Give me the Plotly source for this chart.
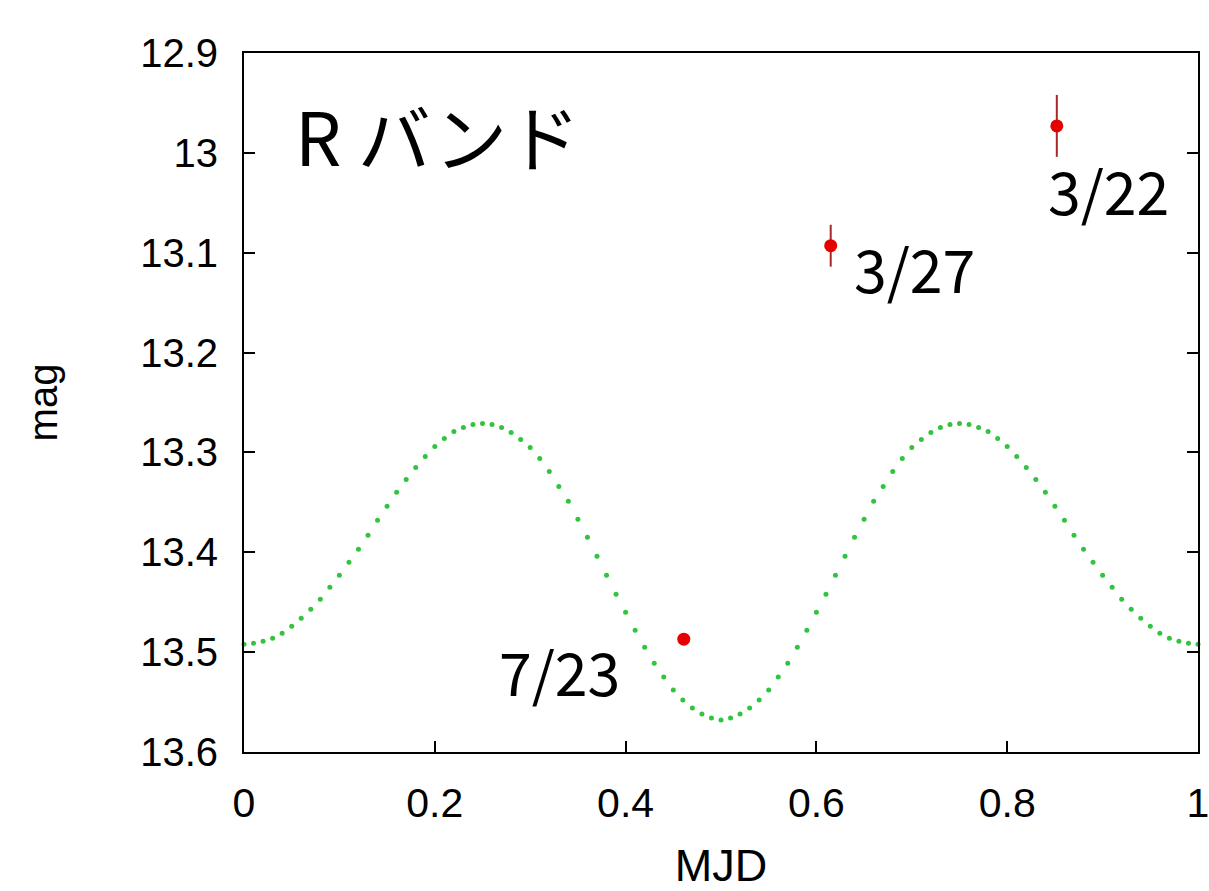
import plotly.graph_objects as go

# model light curve (green dotted), phases 0.00 .. 1.00
model_phase = [i / 100 for i in range(101)]
model_mag = [
    13.492, 13.491, 13.489, 13.486, 13.481, 13.474, 13.466, 13.457, 13.447, 13.435,
    13.423, 13.410, 13.397, 13.383, 13.368, 13.354, 13.340, 13.327, 13.315, 13.304,
    13.294, 13.286, 13.279, 13.275, 13.272, 13.271, 13.272, 13.275, 13.280, 13.287,
    13.295, 13.306, 13.319, 13.334, 13.349, 13.367, 13.385, 13.404, 13.423, 13.442,
    13.460, 13.478, 13.495, 13.511, 13.525, 13.538, 13.548, 13.556, 13.562, 13.566,
    13.568,
    13.566, 13.562, 13.556, 13.548, 13.538, 13.525, 13.511, 13.495, 13.478, 13.460,
    13.442, 13.423, 13.404, 13.385, 13.367, 13.349, 13.334, 13.319, 13.306, 13.295,
    13.287, 13.280, 13.275, 13.272, 13.271, 13.272, 13.275, 13.279, 13.286, 13.294,
    13.304, 13.315, 13.327, 13.340, 13.354, 13.368, 13.383, 13.397, 13.410, 13.423,
    13.435, 13.447, 13.457, 13.466, 13.474, 13.481, 13.486, 13.489, 13.491, 13.492,
]

# observations
obs_dates = ["7/23", "3/27", "3/22"]
obs_phase = [0.461, 0.615, 0.852]
obs_mag = [13.487, 13.093, 12.973]
obs_err = [0.0, 0.021, 0.031]

# label positions (data coords)
label_x = [0.331, 0.703, 0.906]
label_y = [13.518, 13.115, 13.037]

x_ticks = [0, 0.2, 0.4, 0.6, 0.8, 1]
x_ticktext = ["0", "0.2", "0.4", "0.6", "0.8", "1"]
y_ticks = [12.9, 13.0, 13.1, 13.2, 13.3, 13.4, 13.5, 13.6]
y_ticktext = ["12.9", "13", "13.1", "13.2", "13.3", "13.4", "13.5", "13.6"]

fig = go.Figure()

fig.add_trace(go.Scatter(
    x=model_phase, y=model_mag, mode="markers",
    marker=dict(color="#33c43f", size=5, symbol="circle"),
    showlegend=False, hoverinfo="skip", cliponaxis=False,
))

fig.add_trace(go.Scatter(
    x=obs_phase, y=obs_mag, mode="markers",
    marker=dict(color="#e60000", size=13),
    error_y=dict(type="data", array=obs_err, visible=True,
                 color="#a82828", thickness=2, width=0),
    showlegend=False,
))

label_font = dict(family="Noto Sans CJK JP", size=59, color="black")
for t, lx, ly in zip(obs_dates, label_x, label_y):
    fig.add_annotation(x=lx, y=ly, xref="x", yref="y", text=t,
                       showarrow=False, font=label_font,
                       xanchor="center", yanchor="middle")

fig.add_annotation(x=0.0514, y=0.884, xref="paper", yref="paper",
                   text="R バンド", showarrow=False,
                   font=dict(family="Noto Sans CJK JP", size=73, color="black"),
                   xanchor="left", yanchor="middle")

sans = "Liberation Sans, Arial, Helvetica"

fig.update_layout(
    width=1209, height=891,
    margin=dict(l=244, r=11, t=53, b=139, autoexpand=False),
    paper_bgcolor="white", plot_bgcolor="white",
    xaxis=dict(
        range=[0, 1], tickvals=x_ticks, ticktext=x_ticktext,
        ticks="inside", ticklen=11, tickwidth=2, tickcolor="black",
        showline=True, linewidth=2, linecolor="black", mirror=True,
        showgrid=False, zeroline=False, automargin=False,
        ticklabeloverflow="allow",
        tickfont=dict(family=sans, size=41, color="black"),
        ticklabelstandoff=14,
        title=dict(text="MJD", standoff=27,
                   font=dict(family=sans, size=45, color="black")),
    ),
    yaxis=dict(
        range=[13.6, 12.9], tickvals=y_ticks, ticktext=y_ticktext,
        ticks="inside", ticklen=11, tickwidth=2, tickcolor="black",
        showline=True, linewidth=2, linecolor="black", mirror="ticks",
        showgrid=False, zeroline=False, automargin=False,
        tickfont=dict(family=sans, size=40, color="black"),
        ticklabelstandoff=16,
        title=dict(text="mag", standoff=70,
                   font=dict(family=sans, size=40, color="black")),
    ),
)

fig.write_html("out.html")
